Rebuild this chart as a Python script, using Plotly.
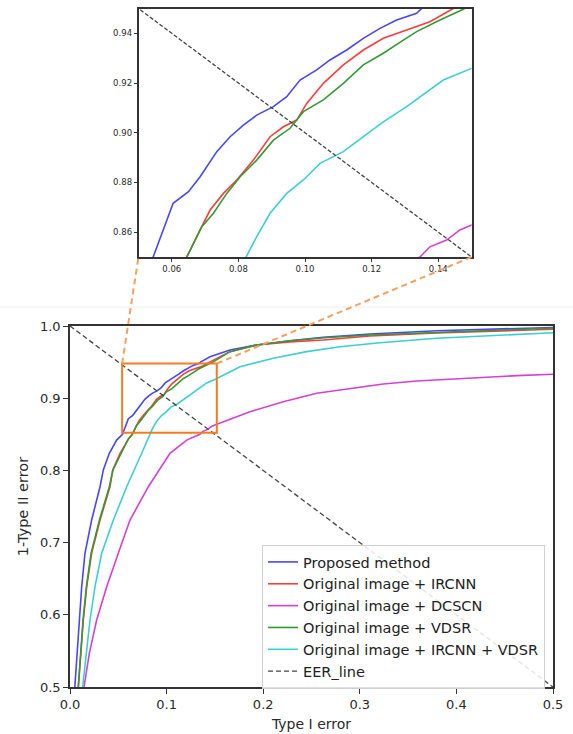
import plotly.graph_objects as go

# ---------------- data ----------------
series_names = [
    "Proposed method",
    "Original image + IRCNN",
    "Original image + DCSCN",
    "Original image + VDSR",
    "Original image + IRCNN + VDSR",
]

proposed_x = [0.005, 0.0076, 0.0097, 0.0121, 0.0155, 0.0224, 0.0311, 0.0345, 0.0407, 0.0483,
              0.0544, 0.0574, 0.0604, 0.065, 0.0685, 0.0735, 0.0775, 0.0815, 0.0855, 0.0905,
              0.0945, 0.0985, 0.1035, 0.1075, 0.1125, 0.1175, 0.1225, 0.1275, 0.1335, 0.135,
              0.145, 0.1656, 0.1933, 0.2277, 0.2622, 0.3106, 0.3796, 0.4486, 0.5]
proposed_y = [0.5, 0.5467, 0.5928, 0.6389, 0.6852, 0.7313, 0.7774, 0.8006, 0.8237, 0.842,
              0.850, 0.8609, 0.8716, 0.8763, 0.8823, 0.8924, 0.8984, 0.9031, 0.9071, 0.9105,
              0.9145, 0.9212, 0.9253, 0.9293, 0.9333, 0.938, 0.942, 0.9454, 0.9481, 0.950,
              0.9575, 0.9668, 0.9737, 0.9796, 0.9843, 0.9889, 0.9935, 0.9962, 0.998]

ircnn_x = [0.0086, 0.0111, 0.0138, 0.0173, 0.0224, 0.0311, 0.0414, 0.0442, 0.0518, 0.0604,
           0.0645, 0.0685, 0.0715, 0.0755, 0.0795, 0.0845, 0.0895, 0.0935, 0.0975, 0.1005,
           0.1055, 0.1115, 0.1175, 0.1235, 0.1305, 0.1375, 0.1445,
           0.1656, 0.1933, 0.2277, 0.2622, 0.3106, 0.3796, 0.4486, 0.5]
ircnn_y = [0.5, 0.5467, 0.5928, 0.6389, 0.6852, 0.7313, 0.7774, 0.8006, 0.8237, 0.843,
           0.850, 0.8609, 0.8689, 0.8756, 0.881, 0.889, 0.8984, 0.9024, 0.9051, 0.9118,
           0.9199, 0.9273, 0.9333, 0.938, 0.9413, 0.9447, 0.950,
           0.9645, 0.9737, 0.978, 0.9806, 0.9862, 0.9905, 0.9935, 0.9954]

dcscn_x = [0.0145, 0.02, 0.0276, 0.038, 0.05, 0.0621, 0.0811, 0.1035, 0.1208,
           0.1345, 0.1375, 0.1425, 0.1465, 0.15,
           0.1863, 0.2208, 0.2554, 0.2899, 0.3243, 0.3589, 0.3934, 0.4279, 0.4624, 0.5]
dcscn_y = [0.5, 0.5467, 0.5928, 0.6389, 0.6852, 0.7313, 0.7774, 0.8237, 0.842,
           0.850, 0.8541, 0.8568, 0.8609, 0.8629,
           0.8813, 0.8952, 0.9068, 0.9137, 0.9197, 0.9238, 0.9266, 0.9289, 0.9312, 0.9331]

vdsr_x = [0.0086, 0.0108, 0.0135, 0.017, 0.0218, 0.0305, 0.0407, 0.0445, 0.0525, 0.06,
          0.0645, 0.069, 0.0725, 0.0765, 0.0805, 0.0855, 0.0905, 0.0955, 0.0995, 0.1055,
          0.1115, 0.1175, 0.1235, 0.1295, 0.1335, 0.1405, 0.1475,
          0.1656, 0.1933, 0.2277, 0.2622, 0.3106, 0.3796, 0.4486, 0.5]
vdsr_y = [0.5, 0.5467, 0.5928, 0.6389, 0.6852, 0.7313, 0.7774, 0.8006, 0.8237, 0.843,
          0.850, 0.8622, 0.8676, 0.8756, 0.8823, 0.889, 0.897, 0.9018, 0.9085, 0.9132,
          0.9199, 0.9273, 0.932, 0.9373, 0.9407, 0.9454, 0.9497,
          0.9645, 0.9737, 0.9795, 0.9838, 0.9875, 0.9915, 0.9945, 0.9968]

ircnn_vdsr_x = [0.0131, 0.0166, 0.0207, 0.0259, 0.0328, 0.0449, 0.0587, 0.0742,
                0.0823, 0.0855, 0.0895, 0.0945, 0.0995, 0.1045, 0.1115, 0.1175, 0.1235,
                0.1305, 0.1375, 0.1415, 0.15,
                0.176, 0.2105, 0.245, 0.2795, 0.3209, 0.3796, 0.4486, 0.5]
ircnn_vdsr_y = [0.5, 0.5467, 0.5928, 0.6389, 0.6852, 0.7313, 0.7774, 0.8237,
                0.850, 0.8582, 0.8676, 0.8756, 0.881, 0.8877, 0.8924, 0.8984, 0.9044,
                0.9105, 0.9172, 0.9212, 0.9259,
                0.9436, 0.9553, 0.9645, 0.9713, 0.9769, 0.983, 0.9875, 0.9907]

eer_x = [0.0, 0.5]
eer_y = [1.0, 0.5]

main_x_ticks = [0.0, 0.1, 0.2, 0.3, 0.4, 0.5]
main_y_ticks = [0.5, 0.6, 0.7, 0.8, 0.9, 1.0]
inset_x_ticks = [0.06, 0.08, 0.10, 0.12, 0.14]
inset_y_ticks = [0.86, 0.88, 0.90, 0.92, 0.94]

main_x_range = [0.0, 0.5]
main_y_range = [0.5, 1.0]
inset_x_range = [0.05, 0.15]
inset_y_range = [0.85, 0.95]
zoom_box = [0.054, 0.152, 0.852, 0.948]  # x0, x1, y0, y1 as drawn in the main plot

# ---------------- styling ----------------
colors = ["#4646ff", "#ff3c3c", "#d43fd4", "#349a34", "#3dcfcf"]
xs = [proposed_x, ircnn_x, dcscn_x, vdsr_x, ircnn_vdsr_x]
ys = [proposed_y, ircnn_y, dcscn_y, vdsr_y, ircnn_vdsr_y]
FONT = "DejaVu Sans"
W, H = 573, 734

main_xdom = [70 / W, 553 / W]
main_ydom = [1 - 687 / H, 1 - 326 / H]
inset_xdom = [138.5 / W, 471.6 / W]
inset_ydom = [1 - 257 / H, 1 - 8.5 / H]

fig = go.Figure()

for name, x, y, c in zip(series_names, xs, ys, colors):
    fig.add_trace(go.Scatter(x=x, y=y, mode="lines", name=name,
                             line=dict(color=c, width=1.6), xaxis="x", yaxis="y"))
fig.add_trace(go.Scatter(x=eer_x, y=eer_y, mode="lines", name="EER_line",
                         line=dict(color="#444444", width=1.3, dash="5px,3px"),
                         xaxis="x", yaxis="y"))

for name, x, y, c in zip(series_names, xs, ys, colors):
    fig.add_trace(go.Scatter(x=x, y=y, mode="lines", name=name, showlegend=False,
                             line=dict(color=c, width=1.6), xaxis="x2", yaxis="y2"))
fig.add_trace(go.Scatter(x=eer_x, y=eer_y, mode="lines", name="EER_line", showlegend=False,
                         line=dict(color="#444444", width=1.3, dash="4px,2px"),
                         xaxis="x2", yaxis="y2"))


def to_paper(v, rng, dom):
    return dom[0] + (v - rng[0]) / (rng[1] - rng[0]) * (dom[1] - dom[0])


bx0 = to_paper(zoom_box[0], main_x_range, main_xdom)
bx1 = to_paper(zoom_box[1], main_x_range, main_xdom)
by1 = to_paper(zoom_box[3], main_y_range, main_ydom)

shapes = [
    dict(type="rect", xref="x", yref="y", x0=zoom_box[0], x1=zoom_box[1],
         y0=zoom_box[2], y1=zoom_box[3], line=dict(color="#f47c20", width=2)),
    dict(type="line", xref="paper", yref="paper", x0=bx0, y0=by1,
         x1=inset_xdom[0], y1=inset_ydom[0],
         line=dict(color="#f5a060", width=2, dash="6px,4px")),
    dict(type="line", xref="paper", yref="paper", x0=bx1, y0=by1,
         x1=inset_xdom[1], y1=inset_ydom[0],
         line=dict(color="#f5a060", width=2, dash="6px,4px")),
    dict(type="line", xref="paper", yref="paper", x0=0, x1=1, y0=1 - 307 / H, y1=1 - 307 / H,
         line=dict(color="#eeeeee", width=1), layer="below"),
]

axis_common = dict(showline=True, mirror=True, linecolor="#333333", linewidth=1.5,
                   showgrid=False, zeroline=False, ticks="outside", tickcolor="#333333",
                   automargin=False)

fig.update_layout(
    width=W, height=H,
    margin=dict(l=0, r=0, t=0, b=0),
    paper_bgcolor="white", plot_bgcolor="white",
    font=dict(family=FONT, color="#2a2a2a"),
    showlegend=True,
    legend=dict(x=262 / W, y=1 - 545 / H, xanchor="left", yanchor="top",
                bgcolor="rgba(255,255,255,0.85)", bordercolor="#d0d0d0", borderwidth=1,
                font=dict(family=FONT, size=14.5, color="#222222"),
                itemwidth=30, tracegroupgap=0),
    xaxis=dict(domain=main_xdom, range=main_x_range, anchor="y",
               tickvals=main_x_ticks, tickformat=".1f", ticklen=5,
               tickfont=dict(size=13),
               title=dict(text="Type I error", font=dict(size=14), standoff=8),
               **axis_common),
    yaxis=dict(domain=main_ydom, range=main_y_range, anchor="x",
               tickvals=main_y_ticks, tickformat=".1f", ticklen=5,
               tickfont=dict(size=13),
               title=dict(text="1-Type II error", font=dict(size=14.5), standoff=8),
               **axis_common),
    xaxis2=dict(domain=inset_xdom, range=inset_x_range, anchor="y2",
                tickvals=inset_x_ticks, tickformat=".2f", ticklen=3,
                tickfont=dict(size=8.5), **axis_common),
    yaxis2=dict(domain=inset_ydom, range=inset_y_range, anchor="x2",
                tickvals=inset_y_ticks, tickformat=".2f", ticklen=3,
                tickfont=dict(size=8.5), **axis_common),
    shapes=shapes,
)

fig.write_html("out.html")
